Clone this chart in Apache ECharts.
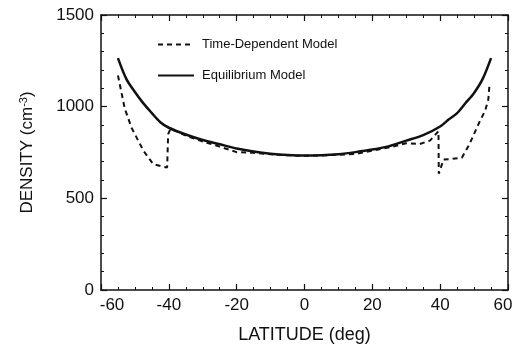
<!DOCTYPE html>
<html><head><meta charset="utf-8">
<script src="https://cdn.jsdelivr.net/npm/echarts@6/dist/echarts.min.js"></script>
<style>html,body{margin:0;padding:0;background:#fff}#c{width:524px;height:349px}</style>
</head><body><div id="c"></div>
<script>
const eqLat = [-55,-52.5,-50,-47.5,-45,-42.5,-40,-35,-30,-25,-20,-15,-10,-5,0,5,10,15,20,25,30,35,40,42.5,45,47.5,50,52.5,55];
const eqDensity = [1265,1150,1080,1018,965,915,885,848,818,795,772,755,743,736,733,735,741,752,766,785,815,845,892,930,965,1020,1075,1150,1265];
const tdLat = [-55,-53,-51,-47.5,-44.6,-41.5,-40.5,-40.2,-39.5,-35,-30,-25,-20,-15,-10,-5,0,5,10,15,20,25,30,34,37,39.5,39.6,41,43,46.4,48.5,51.3,53.3,54.2,54.5];
const tdDensity = [1170,990,885,760,687,672,668,850,880,842,810,782,752,748,740,735,732,734,738,742,760,778,800,796,815,866,634,712,714,722,790,905,980,1040,1110];
const xTicks = [-60,-40,-20,0,20,40,60];
const yTicks = [0,500,1000,1500];

const chart = echarts.init(document.getElementById('c'));
const font = 'Liberation Sans, Arial, sans-serif';
const pair = (xs, ys) => xs.map((x,i)=>[x, ys[i]]);
function axis(extra, minorSplit){
  return Object.assign({
    axisLine:{show:true,onZero:false,lineStyle:{color:'#111',width:1.5}},
    axisTick:{show:true,inside:true,length:6,lineStyle:{color:'#111',width:1.2}},
    minorTick:{show:true,splitNumber:minorSplit,length:3,lineStyle:{color:'#111',width:1}},
    splitLine:{show:false}
  }, extra);
}
chart.setOption({
  backgroundColor:'#fff',
  animation:false,
  grid:{left:101,right:16,top:15,bottom:54},
  legend:{
    orient:'vertical', left:152, top:33, itemWidth:36, itemHeight:14, itemGap:18,
    itemStyle:{opacity:0},
    textStyle:{fontFamily:font,fontSize:13,color:'#111',padding:[0,0,0,3]},
    data:['Time-Dependent Model','Equilibrium Model']
  },
  xAxis:[
    axis({type:'value',min:-60,max:60,interval:20,position:'bottom',
      name:'LATITUDE (deg)',nameLocation:'middle',nameGap:36,
      nameTextStyle:{fontFamily:font,fontSize:18,color:'#111'},
      axisLabel:{fontFamily:font,fontSize:17,color:'#111',margin:7,
        formatter:v=> v===xTicks[0] ? '{a|'+v+'}' : (v===xTicks[xTicks.length-1] ? '{b|'+v+'}' : String(v)),
        rich:{a:{fontFamily:font,fontSize:17,color:'#111',padding:[0,0,0,22]},
              b:{fontFamily:font,fontSize:17,color:'#111',padding:[0,10,0,0]}}}},4),
    axis({type:'value',min:-60,max:60,interval:20,position:'top',axisLabel:{show:false}},4)
  ],
  yAxis:[
    axis({type:'value',min:0,max:1500,interval:500,position:'left',
      name:'DENSITY (cm{sup|-3})',nameLocation:'middle',nameGap:64,
      nameTextStyle:{fontFamily:font,fontSize:17,color:'#111',
        rich:{sup:{fontFamily:font,fontSize:11,color:'#111',verticalAlign:'top',padding:[0,0,8,0]}}},
      axisLabel:{fontFamily:font,fontSize:17,color:'#111',margin:7,formatter:v=>String(v)}},5),
    axis({type:'value',min:0,max:1500,interval:500,position:'right',axisLabel:{show:false}},5)
  ],
  series:[
    {name:'Time-Dependent Model',type:'line',data:pair(tdLat,tdDensity),showSymbol:false,symbol:'none',
     lineStyle:{color:'#111',width:2,type:[5,4]},itemStyle:{color:'#111'},z:3},
    {name:'Equilibrium Model',type:'line',data:pair(eqLat,eqDensity),showSymbol:false,symbol:'none',smooth:0.3,
     lineStyle:{color:'#111',width:2.5,type:'solid'},itemStyle:{color:'#111'},z:4}
  ]
});
</script></body></html>
